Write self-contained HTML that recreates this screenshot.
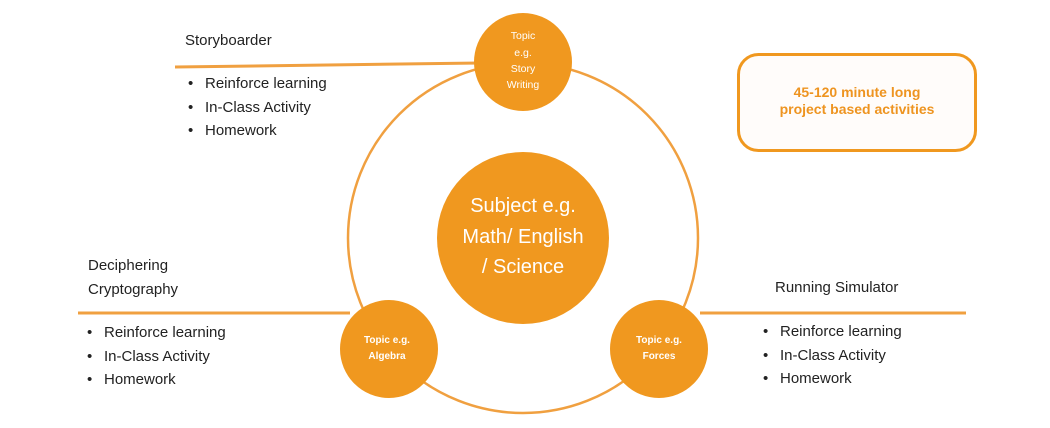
<!DOCTYPE html>
<html><head><style>
body{margin:0;width:1050px;height:428px;background:#fff;overflow:hidden;position:relative;font-family:"Liberation Sans",sans-serif;color:#222}
.t{position:absolute;font-size:15px;line-height:23.5px;white-space:nowrap}
ul{position:absolute;margin:0;padding:0;list-style:none;font-size:15px;line-height:23.5px}
li:before{content:"•";display:inline-block;width:17px;font-size:15px}
</style></head><body>
<svg width="1050" height="428" style="position:absolute;left:0;top:0">
<g stroke="#F0A040" stroke-width="3" fill="none">
<line x1="175" y1="67" x2="480" y2="63"/>
<line x1="78" y1="313" x2="350" y2="313"/>
<line x1="700" y1="313" x2="966" y2="313"/>
<circle cx="523" cy="238" r="175" stroke-width="2.5"/>
</g>
<g fill="#F0981F">
<circle cx="523" cy="238" r="86"/>
<circle cx="523" cy="62" r="49"/>
<circle cx="389" cy="349" r="49"/>
<circle cx="659" cy="349" r="49"/>
</g>
<rect x="738.5" y="54.5" width="237" height="96" rx="20" fill="#FFFCFA" stroke="#F0981F" stroke-width="3"/>
<g fill="#fff" font-family="Liberation Sans, sans-serif" text-anchor="middle">
<text x="523" y="212" font-size="20">Subject e.g.</text>
<text x="523" y="243" font-size="20">Math/ English</text>
<text x="523" y="273" font-size="20">/ Science</text>
<text x="523" y="39" font-size="10.5">Topic</text>
<text x="523" y="56" font-size="10.5">e.g.</text>
<text x="523" y="72" font-size="10.5">Story</text>
<text x="523" y="88" font-size="10.5">Writing</text>
<text x="387" y="343" font-size="10" font-weight="bold">Topic e.g.</text>
<text x="387" y="359" font-size="10" font-weight="bold">Algebra</text>
<text x="659" y="343" font-size="10" font-weight="bold">Topic e.g.</text>
<text x="659" y="359" font-size="10" font-weight="bold">Forces</text>
</g>
<g fill="#EE9420" font-family="Liberation Sans, sans-serif" text-anchor="middle" font-size="14" font-weight="bold">
<text x="857" y="97">45-120 minute long</text>
<text x="857" y="114">project based activities</text>
</g>
</svg>
<div class="t" style="left:185px;top:29px">Storyboarder</div>
<ul style="left:188px;top:72px"><li>Reinforce learning</li><li>In-Class Activity</li><li>Homework</li></ul>
<div class="t" style="left:88px;top:254px">Deciphering<br>Cryptography</div>
<ul style="left:87px;top:321px"><li>Reinforce learning</li><li>In-Class Activity</li><li>Homework</li></ul>
<div class="t" style="left:775px;top:276px">Running Simulator</div>
<ul style="left:763px;top:320px"><li>Reinforce learning</li><li>In-Class Activity</li><li>Homework</li></ul>
</body></html>
